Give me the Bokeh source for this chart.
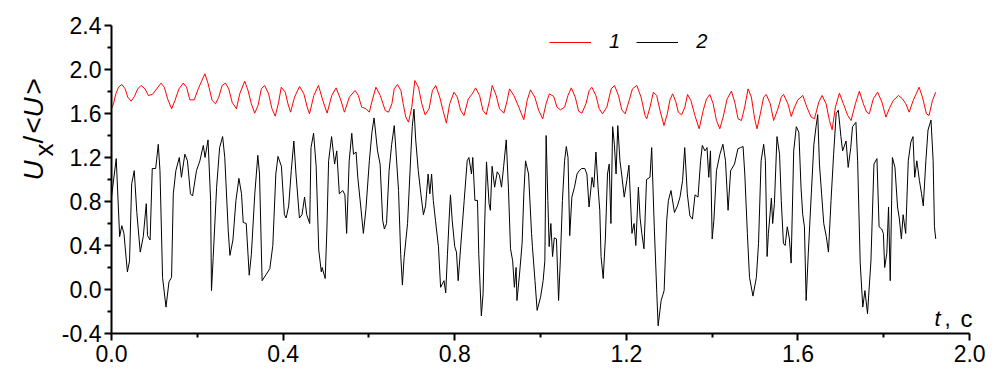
import math
from bokeh.plotting import figure
from bokeh.layouts import row
from bokeh.models import (Range1d, FixedTicker, Label, Legend, LegendItem)
from bokeh.embed import file_html
from bokeh.resources import INLINE

# ---- data ----
red_t = [0.0000, 0.0046, 0.0101, 0.0163, 0.0240, 0.0318, 0.0379, 0.0457, 0.0534, 0.0612, 0.0689, 0.0782, 0.0859, 0.0952, 0.1053, 0.1154, 0.1231, 0.1308, 0.1402, 0.1479, 0.1572, 0.1672, 0.1750, 0.1827, 0.1928, 0.2021, 0.2176, 0.2253, 0.2346, 0.2424, 0.2501, 0.2578, 0.2656, 0.2733, 0.2811, 0.2911, 0.2989, 0.3105, 0.3182, 0.3260, 0.3337, 0.3415, 0.3492, 0.3570, 0.3662, 0.3740, 0.3817, 0.3895, 0.3957, 0.4050, 0.4112, 0.4174, 0.4266, 0.4383, 0.4483, 0.4561, 0.4615, 0.4716, 0.4824, 0.4925, 0.5025, 0.5134, 0.5234, 0.5335, 0.5428, 0.5544, 0.5676, 0.5753, 0.5831, 0.5931, 0.6009, 0.6086, 0.6163, 0.6264,
         0.6380, 0.6457, 0.6535, 0.6589, 0.6666, 0.6744, 0.6798, 0.6860, 0.6922, 0.6999, 0.7069, 0.7154, 0.7232, 0.7309, 0.7402, 0.7480, 0.7557, 0.7650, 0.7727, 0.7805, 0.7882, 0.7983, 0.8060, 0.8138, 0.8215, 0.8316, 0.8409, 0.8486, 0.8579, 0.8657, 0.8734, 0.8811, 0.8873, 0.8966, 0.9044, 0.9145, 0.9222, 0.9276, 0.9377, 0.9493, 0.9609, 0.9687, 0.9764, 0.9865, 0.9958, 1.0050, 1.0128, 1.0205, 1.0306, 1.0383, 1.0461, 1.0561, 1.0639, 1.0716, 1.0809, 1.0887, 1.0964, 1.1057, 1.1134, 1.1196, 1.1289, 1.1367, 1.1444, 1.1545, 1.1645, 1.1723, 1.1816, 1.1893, 1.1971, 1.2064, 1.2141, 1.2242, 1.2342, 1.2435, 1.2474, 1.2551, 1.2629,
         1.2706, 1.2784, 1.2877, 1.2954, 1.3016, 1.3078, 1.3155, 1.3210, 1.3287, 1.3364, 1.3426, 1.3504, 1.3597, 1.3697, 1.3790, 1.3868, 1.3945, 1.4023, 1.4100, 1.4177, 1.4255, 1.4348, 1.4448, 1.4526, 1.4603, 1.4681, 1.4758, 1.4836, 1.4913, 1.4990, 1.5045, 1.5122, 1.5199, 1.5261, 1.5354, 1.5432, 1.5532, 1.5610, 1.5664, 1.5765, 1.5842, 1.5920, 1.5997, 1.6113, 1.6206, 1.6307, 1.6384, 1.6485, 1.6562, 1.6655, 1.6733, 1.6795, 1.6872, 1.6965, 1.7058, 1.7159, 1.7236, 1.7337, 1.7430, 1.7523, 1.7600, 1.7662, 1.7755, 1.7855, 1.7956, 1.8049, 1.8126, 1.8219, 1.8343, 1.8436, 1.8513, 1.8591, 1.8684, 1.8823, 1.8900, 1.8993, 1.9055, 1.9133, 1.9210]
red_v = [1.643, 1.688, 1.779, 1.839, 1.864, 1.824, 1.749, 1.712, 1.755, 1.824, 1.855, 1.824, 1.764, 1.773, 1.824, 1.876, 1.839, 1.733, 1.643, 1.718, 1.824, 1.876, 1.839, 1.724, 1.724, 1.824, 1.961, 1.870, 1.718, 1.688, 1.749, 1.855, 1.876, 1.824, 1.703, 1.643, 1.779, 1.894, 1.809, 1.688, 1.603, 1.673, 1.824, 1.855, 1.779, 1.643, 1.576, 1.703, 1.839, 1.794, 1.688, 1.612, 1.749, 1.846, 1.779, 1.658, 1.597, 1.764, 1.855, 1.718, 1.603, 1.764, 1.833, 1.733, 1.612, 1.749, 1.809, 1.764, 1.658, 1.643, 1.612, 1.733, 1.839, 1.764,
         1.627, 1.612, 1.688, 1.824, 1.864, 1.809, 1.688, 1.567, 1.521, 1.658, 1.900, 1.839, 1.688, 1.588, 1.643, 1.809, 1.855, 1.749, 1.627, 1.512, 1.688, 1.794, 1.749, 1.627, 1.582, 1.733, 1.779, 1.833, 1.764, 1.627, 1.591, 1.718, 1.855, 1.764, 1.643, 1.603, 1.718, 1.824, 1.764, 1.658, 1.543, 1.718, 1.815, 1.749, 1.627, 1.552, 1.688, 1.779, 1.755, 1.658, 1.633, 1.658, 1.764, 1.833, 1.749, 1.621, 1.603, 1.688, 1.809, 1.839, 1.764, 1.643, 1.597, 1.658, 1.824, 1.855, 1.764, 1.633, 1.597, 1.718, 1.824, 1.855, 1.749, 1.582, 1.552, 1.658, 1.794,
         1.764, 1.627, 1.491, 1.597, 1.724, 1.779, 1.703, 1.612, 1.588, 1.658, 1.773, 1.718, 1.582, 1.461, 1.627, 1.733, 1.773, 1.688, 1.536, 1.461, 1.567, 1.733, 1.803, 1.703, 1.552, 1.536, 1.658, 1.824, 1.749, 1.552, 1.461, 1.597, 1.749, 1.773, 1.688, 1.536, 1.643, 1.749, 1.773, 1.688, 1.573, 1.658, 1.724, 1.764, 1.658, 1.567, 1.552, 1.703, 1.764, 1.688, 1.536, 1.452, 1.658, 1.785, 1.688, 1.582, 1.536, 1.688, 1.803, 1.688, 1.612, 1.597, 1.733, 1.794, 1.703, 1.567, 1.643, 1.718, 1.764, 1.733, 1.688, 1.612, 1.718, 1.839, 1.749, 1.597, 1.582, 1.718, 1.794]

black_t = [0.000, 0.011, 0.019, 0.024, 0.029, 0.037, 0.042, 0.047, 0.053, 0.059, 0.067, 0.074, 0.081, 0.084, 0.090, 0.095, 0.103, 0.109, 0.113, 0.119, 0.127, 0.134, 0.140, 0.144, 0.150, 0.158, 0.163, 0.171, 0.177, 0.184, 0.189, 0.198, 0.206, 0.214, 0.218, 0.225, 0.231, 0.233, 0.237, 0.245, 0.252, 0.259, 0.264, 0.272, 0.276, 0.283, 0.290, 0.297, 0.303, 0.307, 0.314, 0.321, 0.326, 0.334, 0.341, 0.345, 0.351, 0.361, 0.369, 0.376, 0.383, 0.388, 0.396, 0.403, 0.407, 0.413, 0.419, 0.425, 0.430, 0.438, 0.444, 0.450, 0.455, 0.462, 0.465, 0.471, 0.477, 0.483, 0.489,
           0.491, 0.498, 0.502, 0.506, 0.513, 0.520, 0.525, 0.531, 0.539, 0.544, 0.548, 0.554, 0.560, 0.564, 0.570, 0.574, 0.581, 0.587, 0.593, 0.601, 0.607, 0.612, 0.620, 0.626, 0.632, 0.636, 0.641, 0.647, 0.653, 0.659, 0.663, 0.669, 0.674, 0.678, 0.682, 0.690, 0.698, 0.701, 0.705, 0.709, 0.715, 0.721, 0.727, 0.732, 0.738, 0.742, 0.746, 0.750, 0.755, 0.762, 0.767, 0.775, 0.779, 0.783, 0.787, 0.790, 0.794, 0.800, 0.804, 0.808, 0.815, 0.822, 0.829, 0.833, 0.839, 0.842, 0.847, 0.853, 0.856, 0.862, 0.866, 0.870, 0.874, 0.880, 0.883, 0.887, 0.893, 0.899, 0.904, 0.909, 0.914, 0.920, 0.925, 0.930, 0.935, 0.939, 0.943, 0.945, 0.951, 0.957, 0.961, 0.965, 0.972, 0.979,
           0.981, 0.987, 0.992, 1.000, 1.006, 1.010, 1.013, 1.017, 1.020, 1.024, 1.028, 1.032, 1.037, 1.042, 1.046, 1.051, 1.056, 1.060, 1.064, 1.068, 1.073, 1.079, 1.085, 1.090, 1.096, 1.103, 1.108, 1.113, 1.120, 1.124, 1.129, 1.134, 1.138, 1.141, 1.146, 1.151, 1.156, 1.160, 1.164, 1.168, 1.172, 1.176, 1.180, 1.185, 1.189, 1.195, 1.201, 1.206, 1.213, 1.218, 1.222, 1.228, 1.232, 1.236, 1.241, 1.247, 1.255, 1.259, 1.265, 1.271, 1.274, 1.281, 1.288, 1.294, 1.298, 1.304, 1.312, 1.319, 1.325, 1.331, 1.336, 1.342, 1.348, 1.354, 1.360, 1.367, 1.373, 1.377, 1.383, 1.388, 1.392, 1.396, 1.400, 1.404, 1.410, 1.418, 1.425, 1.431, 1.437, 1.443, 1.452, 1.460,
           1.466, 1.472, 1.476, 1.482, 1.487, 1.495, 1.503, 1.508, 1.514, 1.520, 1.524, 1.528, 1.531, 1.538, 1.541, 1.545, 1.551, 1.557, 1.561, 1.566, 1.570, 1.575, 1.580, 1.584, 1.590, 1.596, 1.602, 1.607, 1.611, 1.615, 1.619, 1.624, 1.631, 1.637, 1.642, 1.646, 1.650, 1.655, 1.660, 1.666, 1.671, 1.677, 1.683, 1.689, 1.694, 1.700, 1.704, 1.712, 1.717, 1.723, 1.727, 1.735, 1.739, 1.745, 1.751, 1.756, 1.762, 1.770, 1.777, 1.784, 1.789, 1.795, 1.799, 1.802, 1.807, 1.811, 1.815, 1.820, 1.826, 1.832, 1.836, 1.841, 1.845, 1.851, 1.857, 1.863, 1.868, 1.872, 1.877, 1.883, 1.888, 1.892, 1.898, 1.903, 1.910, 1.915, 1.918, 1.921]
black_v = [0.84, 1.19, 0.48, 0.58, 0.51, 0.16, 0.26, 0.96, 1.08, 0.70, 0.34, 0.48, 0.78, 0.49, 0.45, 1.10, 1.10, 1.32, 1.08, 0.11, -0.16, 0.07, 0.11, 0.87, 1.08, 1.20, 1.02, 1.23, 1.17, 0.87, 0.85, 1.08, 1.17, 1.31, 1.20, 1.36, 0.81, -0.01, 0.29, 0.93, 1.29, 1.39, 1.20, 0.54, 0.31, 0.45, 0.81, 1.01, 0.87, 0.61, 0.60, 0.13, 0.32, 0.87, 1.22, 1.05, 0.08, 0.14, 0.19, 0.40, 1.05, 1.21, 1.12, 0.68, 0.65, 0.76, 1.08, 1.35, 1.05, 0.65, 0.68, 0.84, 0.68, 0.60, 1.29, 1.42, 1.12, 0.36, 0.16,
           0.20, 0.10, 0.54, 1.17, 1.39, 1.14, 1.26, 0.87, 0.90, 0.86, 0.51, 1.17, 1.42, 1.23, 1.25, 1.02, 0.75, 0.51, 0.73, 1.17, 1.43, 1.56, 1.26, 1.14, 0.63, 0.55, 0.60, 1.08, 1.32, 1.49, 1.26, 0.90, 0.32, 0.04, 0.29, 0.60, 1.26, 1.48, 1.64, 1.36, 1.08, 0.87, 0.68, 0.76, 1.05, 0.87, 1.05, 0.81, 0.63, 0.39, 0.02, 0.08, -0.03, 0.32, 0.65, 0.86, 0.63, 0.39, 0.34, 0.08, 0.45, 0.81, 1.17, 1.20, 1.05, 1.20, 0.81, 0.81, 0.32, -0.24, -0.04, 0.63, 1.16, 0.78, 0.72, 1.12, 0.93, 1.07, 1.04, 0.93, 1.12, 1.36, 0.93, 0.37, 0.26, 0.02, 0.20, -0.10, 0.14, 0.42, 0.87, 1.17, 1.05, 0.51,
           0.39, 0.08, -0.19, -0.07, 0.08, 0.26, 1.40, 0.81, 0.39, 0.60, 0.30, 0.47, 0.46, -0.10, 0.26, 0.81, 1.17, 1.30, 1.20, 0.49, 0.84, 0.93, 1.05, 1.08, 1.10, 1.10, 1.05, 0.75, 1.02, 0.93, 1.25, 0.93, 0.72, 0.30, 0.10, 0.46, 1.05, 1.14, 0.60, 1.48, 1.32, 1.05, 1.49, 1.17, 1.05, 0.84, 0.99, 1.13, 0.51, 0.60, 0.40, 0.93, 0.65, 0.51, 0.37, 1.00, 1.02, 1.29, 0.57, -0.04, -0.33, -0.10, -0.01, 0.63, 0.81, 0.90, 0.70, 0.76, 0.84, 0.99, 1.29, 0.87, 0.67, 0.64, 0.86, 0.84, 1.17, 1.31, 1.26, 1.29, 1.02, 1.26, 0.46, 0.63, 1.08, 1.23, 1.32, 1.17, 0.72, 1.08, 1.14, 1.28,
           1.29, 1.30, 1.05, 0.51, 0.11, -0.06, 0.11, 0.42, 1.17, 1.32, 1.17, 0.30, 0.51, 0.83, 0.60, 0.78, 1.39, 1.23, 0.81, 0.42, 0.40, 0.57, 0.46, 0.24, 1.26, 1.48, 1.43, 0.93, 0.68, 0.57, -0.10, 0.33, 0.87, 1.32, 1.48, 1.59, 1.14, 0.87, 0.60, 0.48, 0.34, 0.81, 1.23, 1.60, 1.63, 1.39, 1.26, 1.35, 1.11, 1.29, 1.48, 1.52, 1.17, 0.24, -0.16, -0.01, -0.22, 0.26, 1.14, 1.19, 0.57, 0.55, 0.51, 0.20, 0.33, 0.75, 0.08, 1.20, 1.11, 0.75, 0.65, 0.46, 0.68, 0.51, 1.17, 1.34, 1.39, 1.02, 1.17, 0.99, 0.87, 0.76, 1.17, 1.45, 1.54, 1.17, 0.57, 0.46]

series_names = ["1", "2"]
x_ticks = [0.0, 0.4, 0.8, 1.2, 1.6, 2.0]
x_tick_labels = ["0.0", "0.4", "0.8", "1.2", "1.6", "2.0"]
x_minor = [0.2, 0.6, 1.0, 1.4, 1.8]
y_ticks = [-0.4, 0.0, 0.4, 0.8, 1.2, 1.6, 2.0, 2.4]
y_tick_labels = ["-0.4", "0.0", "0.4", "0.8", "1.2", "1.6", "2.0", "2.4"]
y_minor = [-0.2, 0.2, 0.6, 1.0, 1.4, 1.8, 2.2]

FONT = "Liberation Sans"
W = 990
H = 376
LW = 58  # width of the strip holding the rotated y-axis title

# ---- main plot ----
# the frame reaches a little past t = 2.0 so that the "t, с" title is not clipped;
# the axis line itself stops at 2.0 (bounds)
p = figure(width=W - LW, height=H, output_backend="svg", toolbar_location=None,
           x_range=Range1d(0.0, 2.037), y_range=Range1d(-0.4, 2.4),
           min_border_left=108 - LW, min_border_right=5, min_border_top=25, min_border_bottom=43)
p.outline_line_color = None
p.xgrid.visible = False
p.ygrid.visible = False
p.background_fill_color = "white"
p.border_fill_color = "white"

r1 = p.line(red_t, red_v, line_color="#ff0000", line_width=1)
r2 = p.line(black_t, black_v, line_color="#000000", line_width=1)

for ax, ticks, labels, minor in ((p.xaxis[0], x_ticks, x_tick_labels, x_minor),
                                 (p.yaxis[0], y_ticks, y_tick_labels, y_minor)):
    ax.ticker = FixedTicker(ticks=ticks, minor_ticks=minor)
    ax.major_label_overrides = {t: l for t, l in zip(ticks, labels)}
    ax.axis_line_width = 2
    ax.axis_line_color = "black"
    ax.major_tick_line_color = "black"
    ax.minor_tick_line_color = "black"
    ax.major_tick_line_width = 2
    ax.minor_tick_line_width = 2
    ax.major_tick_in = 0
    ax.major_tick_out = 7
    ax.minor_tick_in = 0
    ax.minor_tick_out = 4
    ax.major_label_text_font = FONT
    ax.major_label_text_font_size = "23px"
    ax.major_label_text_color = "black"
p.xaxis[0].bounds = (x_ticks[0], x_ticks[-1])
p.xaxis[0].major_label_standoff = 4
p.yaxis[0].major_label_standoff = 3

legend = Legend(items=[LegendItem(label=series_names[0], renderers=[r1]),
                       LegendItem(label=series_names[1], renderers=[r2])],
                orientation="horizontal", location=(438, 280),
                glyph_width=42, glyph_height=20, label_height=20, label_width=11,
                label_standoff=18, spacing=16, padding=0, margin=0,
                border_line_alpha=0, background_fill_alpha=0,
                label_text_font=FONT, label_text_font_style="italic",
                label_text_font_size="20px", label_text_color="black")
p.add_layout(legend, "center")

def lab(fig, text, x, y, size, style="normal", angle=0.0):
    fig.add_layout(Label(x=x, y=y, x_units="screen", y_units="screen", text=text,
                         angle=angle, angle_units="rad", text_font=FONT,
                         text_font_size=size, text_font_style=style,
                         text_align="left", text_baseline="alphabetic",
                         text_color="black"))

# x-axis title  t, с  (inside the plot, lower right)
lab(p, "t", 823, 15, "22px", "italic")
lab(p, ",", 833, 15, "22px", "normal")
lab(p, "с", 849, 15, "24px", "normal")

# ---- strip with the rotated y-axis title  U_x/<U> ----
q = figure(width=LW, height=H, output_backend="svg", toolbar_location=None,
           x_range=Range1d(0, LW), y_range=Range1d(0, H),
           x_axis_location=None, y_axis_location=None,
           min_border=0, min_border_left=0, min_border_right=0,
           min_border_top=0, min_border_bottom=0)
q.outline_line_color = None
q.xgrid.visible = False
q.ygrid.visible = False
q.background_fill_color = "white"
q.border_fill_color = "white"

rot = math.pi / 2
lab(q, "U", 33, H - 223, "28px", "italic", rot)
lab(q, "x", 43, H - 199, "26px", "normal", rot)
lab(q, "/", 33, H - 186, "28px", "normal", rot)
lab(q, "<", 33, H - 176, "28px", "normal", rot)
lab(q, "U", 33, H - 160, "28px", "italic", rot)
lab(q, ">", 33, H - 137, "28px", "normal", rot)

layout = row(q, p, spacing=0)
open("out.html", "w").write(file_html(layout, INLINE))
